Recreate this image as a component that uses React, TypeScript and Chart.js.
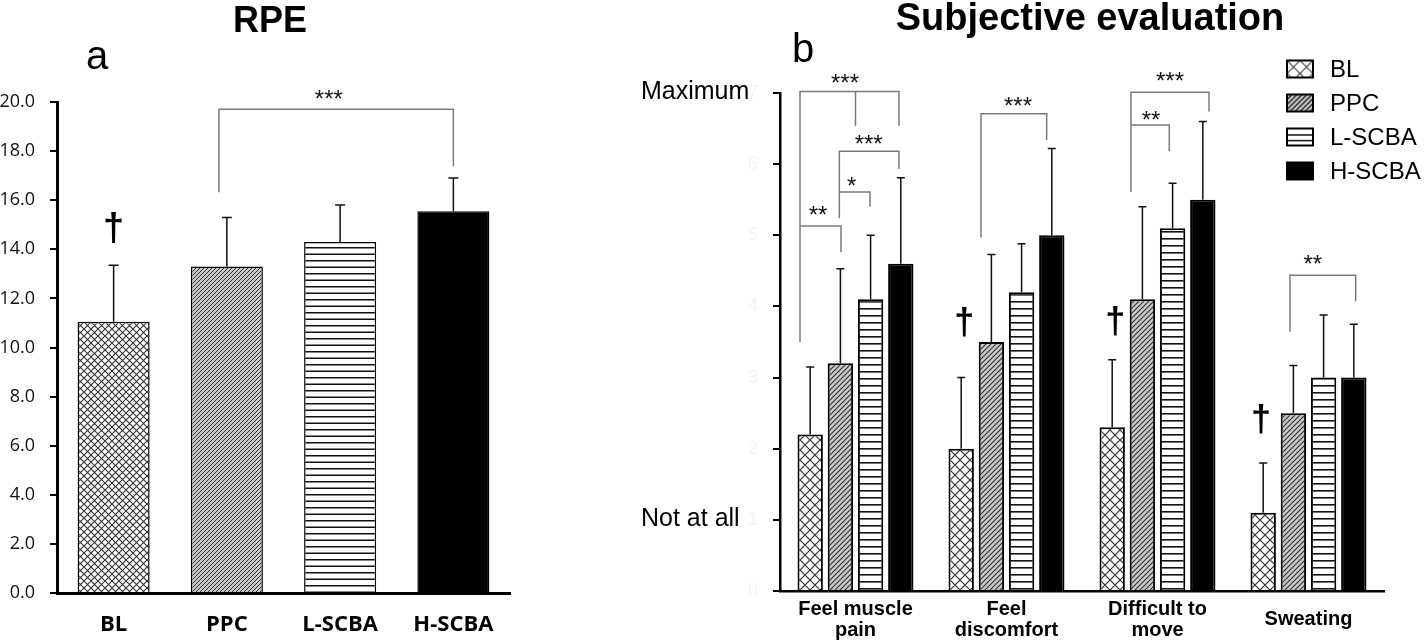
import React, { useEffect, useRef } from "react";
import { Chart, registerables } from "chart.js";

Chart.register(...registerables);

// ---------------- Data ----------------
const rpeCategories = ["BL", "PPC", "L-SCBA", "H-SCBA"];
const rpeMeans = [11.05, 13.3, 14.3, 15.55];
const rpeSD = [2.3, 2.0, 1.5, 1.35];
const rpeTickValues = [0, 2, 4, 6, 8, 10, 12, 14, 16, 18, 20];

const subjCategories = [["Feel muscle", "pain"], ["Feel", "discomfort"], ["Difficult to", "move"], ["Sweating"]];
const subjSeries = ["BL", "PPC", "L-SCBA", "H-SCBA"];
const blMeans = [2.2, 2.0, 2.3, 1.1];
const blSD = [0.95, 1.0, 0.95, 0.7];
const ppcMeans = [3.2, 3.5, 4.1, 2.5];
const ppcSD = [1.33, 1.23, 1.3, 0.67];
const lscbaMeans = [4.1, 4.2, 5.1, 3.0];
const lscbaSD = [0.9, 0.68, 0.63, 0.88];
const hscbaMeans = [4.6, 5.0, 5.5, 3.0];
const hscbaSD = [1.21, 1.22, 1.1, 0.75];
const subjTickValues = [0, 1, 2, 3, 4, 5, 6, 7];
const subjAnchorLabels: { [k: number]: string } = { 7: "Maximum", 1: "Not at all" };

// significance annotations: x in category units, y in data units
const rpeBrackets = [[[0.93, 16.32], [0.93, 19.7], [3, 19.7], [3, 17.38]]];
const rpeSigLabels = [{ text: "***", x: 1.9, y: 20.35 }];
const rpeDaggers = [{ x: 0, y: 14.8 }];

const subjBrackets = [
  [[-0.3675, 3.5], [-0.3675, 7.02], [0.288, 7.02], [0.288, 6.54]],
  [[0.0, 7.02], [0.0, 6.54]],
  [[-0.3675, 5.13], [-0.096, 5.13], [-0.096, 4.76]],
  [[-0.107, 5.24], [-0.107, 6.18], [0.288, 6.18], [0.288, 5.93]],
  [[-0.107, 5.61], [0.096, 5.61], [0.096, 5.4]],
  [[0.831, 4.97], [0.831, 6.71], [1.266, 6.71], [1.266, 6.34]],
  [[1.8245, 5.61], [1.8245, 7.01], [2.341, 7.01], [2.341, 6.74]],
  [[1.8245, 6.55], [2.078, 6.55], [2.078, 6.18]],
  [[2.8775, 3.645], [2.8775, 4.44], [3.3126, 4.44], [3.3126, 4.07]],
];
const subjSigLabels = [
  { text: "***", x: -0.0695, y: 7.22 },
  { text: "**", x: -0.248, y: 5.37 },
  { text: "***", x: 0.087, y: 6.36 },
  { text: "*", x: -0.025, y: 5.78 },
  { text: "***", x: 1.076, y: 6.9 },
  { text: "***", x: 2.083, y: 7.245 },
  { text: "**", x: 1.957, y: 6.7 },
  { text: "**", x: 3.028, y: 4.68 },
];
const subjDaggers = [{ x: 0.72, y: 3.75 }, { x: 1.72, y: 3.77 }, { x: 2.685, y: 2.39 }];

// ---------------- Patterns ----------------
function crossPattern(ctx: CanvasRenderingContext2D, p: number, color: string, lw: number) {
  const c = document.createElement("canvas");
  c.width = p; c.height = p;
  const g = c.getContext("2d")!;
  g.fillStyle = "#fff"; g.fillRect(0, 0, p, p);
  g.strokeStyle = color; g.lineWidth = lw;
  g.beginPath();
  g.moveTo(0, 0); g.lineTo(p, p);
  g.moveTo(0, p); g.lineTo(p, 0);
  g.stroke();
  return ctx.createPattern(c, "repeat")!;
}
function diagPattern(ctx: CanvasRenderingContext2D, p: number, bg: string, color: string, lw: number) {
  const c = document.createElement("canvas");
  c.width = p; c.height = p;
  const g = c.getContext("2d")!;
  g.fillStyle = bg; g.fillRect(0, 0, p, p);
  g.strokeStyle = color; g.lineWidth = lw;
  g.beginPath();
  g.moveTo(-1, p + 1); g.lineTo(p + 1, -1);
  g.moveTo(-1, 1); g.lineTo(1, -1);
  g.moveTo(p - 1, p + 1); g.lineTo(p + 1, p - 1);
  g.stroke();
  return ctx.createPattern(c, "repeat")!;
}
function hlinePattern(ctx: CanvasRenderingContext2D, h: number, count: number, lw: number) {
  const c = document.createElement("canvas");
  c.width = 4; c.height = h;
  const g = c.getContext("2d")!;
  g.fillStyle = "#fff"; g.fillRect(0, 0, 4, h);
  g.fillStyle = "#111";
  for (let i = 0; i < count; i++) g.fillRect(0, (i * h) / count, 4, lw);
  return ctx.createPattern(c, "repeat")!;
}

// ---------------- Helpers ----------------
function drawErrorBars(chart: any, sds: number[][], cap: number, lw: number) {
  const ctx = chart.ctx;
  const ys = chart.scales.y;
  ctx.save();
  ctx.strokeStyle = "#111";
  ctx.lineWidth = lw;
  chart.data.datasets.forEach((ds: any, di: number) => {
    const meta = chart.getDatasetMeta(di);
    meta.data.forEach((el: any, i: number) => {
      const top = ys.getPixelForValue(ds.data[i] + sds[di][i]);
      ctx.beginPath();
      ctx.moveTo(el.x, el.y);
      ctx.lineTo(el.x, top);
      ctx.moveTo(el.x - cap, top);
      ctx.lineTo(el.x + cap, top);
      ctx.stroke();
    });
  });
  ctx.restore();
}
function drawBrackets(chart: any, brackets: number[][][], labels: any[], size: number) {
  const ctx = chart.ctx;
  const xs = chart.scales.x, ys = chart.scales.y;
  ctx.save();
  ctx.strokeStyle = "#7a7a7a";
  ctx.lineWidth = 1.5;
  brackets.forEach((pts) => {
    ctx.beginPath();
    pts.forEach(([x, y], i) => {
      const px = xs.getPixelForValue(x), py = ys.getPixelForValue(y);
      if (i === 0) ctx.moveTo(px, py); else ctx.lineTo(px, py);
    });
    ctx.stroke();
  });
  ctx.fillStyle = "#111";
  ctx.font = `${size}px "Liberation Sans", Arial, sans-serif`;
  ctx.textAlign = "center";
  ctx.textBaseline = "alphabetic";
  labels.forEach((l) => {
    const px = xs.getPixelForValue(l.x), py = ys.getPixelForValue(l.y);
    ctx.fillText(l.text, px, py + 0.58 * size);
  });
  ctx.restore();
}
function drawDaggers(chart: any, daggers: any[], size: number) {
  const ctx = chart.ctx;
  const xs = chart.scales.x, ys = chart.scales.y;
  ctx.save();
  ctx.fillStyle = "#000";
  ctx.font = `bold ${size}px "Liberation Sans", Arial, sans-serif`;
  ctx.textAlign = "center";
  ctx.textBaseline = "middle";
  daggers.forEach((d) => {
    ctx.fillText("\u2020", xs.getPixelForValue(d.x), ys.getPixelForValue(d.y));
  });
  ctx.restore();
}

// ---------------- Left chart ----------------
function RpeChart() {
  const ref = useRef<HTMLCanvasElement | null>(null);
  useEffect(() => {
    const canvas = ref.current!;
    const ctx = canvas.getContext("2d")!;
    const fills = [
      crossPattern(ctx, 7, "#333", 1.1),
      diagPattern(ctx, 4, "#c8c8c8", "#333", 1),
      hlinePattern(ctx, 13, 2, 1.5),
      "#000",
    ];
    const annot = {
      id: "rpeAnnot",
      afterDatasetsDraw(chart: any) {
        drawErrorBars(chart, [rpeSD], 5, 1.5);
        drawBrackets(chart, rpeBrackets, rpeSigLabels, 24);
        drawDaggers(chart, rpeDaggers, 38);
      },
      afterDraw(chart: any) {
        const c = chart.ctx;
        c.save();
        c.fillStyle = "#000";
        c.textBaseline = "alphabetic";
        c.textAlign = "center";
        c.font = 'bold 36px "Liberation Sans", Arial, sans-serif';
        c.fillText("RPE", 270, 32);
        c.textAlign = "left";
        c.font = '40px "Liberation Sans", Arial, sans-serif';
        c.fillText("a", 86, 69);
        c.restore();
      },
    };
    const chart = new Chart(canvas, {
      type: "bar",
      data: {
        labels: rpeCategories,
        datasets: [
          {
            label: "RPE",
            data: rpeMeans,
            backgroundColor: fills as any,
            borderColor: "#000",
            borderWidth: 1.5,
            categoryPercentage: 1,
            barPercentage: 0.636,
          },
        ],
      },
      options: {
        responsive: false,
        animation: false,
        layout: { padding: { left: 0, right: 50, top: 102, bottom: 0 } },
        plugins: { legend: { display: false }, tooltip: { enabled: false }, title: { display: false } },
        scales: {
          x: {
            type: "category",
            grid: { display: false, drawTicks: false },
            border: { display: true, color: "#000", width: 3 },
            ticks: {
              color: "#000",
              font: { family: '"Open Sans", sans-serif', size: 22, weight: "bold" },
              padding: 19,
            },
            afterFit: (s: any) => { s.height = 51; },
          },
          y: {
            min: 0,
            max: 20,
            afterBuildTicks: (axis: any) => { axis.ticks = rpeTickValues.map((v) => ({ value: v })); },
            ticks: {
              color: "#111",
              font: { family: '"Open Sans", sans-serif', size: 18 },
              padding: 15,
              callback: (v: any) => Number(v).toFixed(1),
            },
            grid: { drawOnChartArea: false, drawTicks: true, tickLength: 7, color: "#000", lineWidth: 2 },
            border: { display: true, color: "#000", width: 3 },
            afterFit: (s: any) => { s.width = 57; },
          },
        },
      } as any,
      plugins: [annot],
    });
    return () => chart.destroy();
  }, []);
  return <canvas ref={ref} width={560} height={644} style={{ width: 560, height: 644, display: "block" }} />;
}

// ---------------- Right chart ----------------
function SubjChart() {
  const ref = useRef<HTMLCanvasElement | null>(null);
  useEffect(() => {
    const canvas = ref.current!;
    const ctx = canvas.getContext("2d")!;
    const fills = [
      crossPattern(ctx, 10, "#333", 1.2),
      diagPattern(ctx, 5, "#c8c8c8", "#333", 1.1),
      hlinePattern(ctx, 7, 1, 1.6),
      "#000",
    ];
    const legendFills = [
      crossPattern(ctx, 13, "#444", 1.2),
      diagPattern(ctx, 5, "#cfcfcf", "#222", 1.5),
      hlinePattern(ctx, 6, 1, 1.6),
      "#000",
    ];
    const means = [blMeans, ppcMeans, lscbaMeans, hscbaMeans];
    const sds = [blSD, ppcSD, lscbaSD, hscbaSD];
    const annot = {
      id: "subjAnnot",
      afterDatasetsDraw(chart: any) {
        drawErrorBars(chart, sds, 4, 1.5);
        drawBrackets(chart, subjBrackets, subjSigLabels, 24);
        drawDaggers(chart, subjDaggers, 36);
      },
      afterDraw(chart: any) {
        const c = chart.ctx;
        const ys = chart.scales.y;
        c.save();
        c.fillStyle = "#000";
        c.textBaseline = "alphabetic";
        c.textAlign = "center";
        c.font = 'bold 38px "Liberation Sans", Arial, sans-serif';
        c.fillText("Subjective evaluation", 530, 30);
        c.textAlign = "left";
        c.font = '40px "Liberation Sans", Arial, sans-serif';
        c.fillText("b", 232, 62);
        // anchor labels on the y axis
        c.font = '25px "Liberation Sans", Arial, sans-serif';
        c.textBaseline = "middle";
        Object.keys(subjAnchorLabels).forEach((k) => {
          c.fillText(subjAnchorLabels[Number(k)], 81, ys.getPixelForValue(Number(k)) - 1);
        });
        // legend
        const rows = [69, 103, 137, 171];
        chart.data.datasets.forEach((ds: any, i: number) => {
          const bx = 727, bw = 26, bh = 17, by = rows[i] - bh / 2;
          c.save();
          c.translate(bx, by);
          c.fillStyle = legendFills[i];
          c.fillRect(0, 0, bw, bh);
          if (i === 2) {
            c.fillStyle = "#fff";
            c.fillRect(0, 0, bw, bh);
            c.fillStyle = "#222";
            c.fillRect(0, bh / 3, bw, 1.6);
            c.fillRect(0, (2 * bh) / 3, bw, 1.6);
          }
          c.strokeStyle = "#000";
          c.lineWidth = 2;
          c.strokeRect(0, 0, bw, bh);
          c.restore();
          c.fillStyle = "#000";
          c.font = '24px "Liberation Sans", Arial, sans-serif';
          c.textAlign = "left";
          c.textBaseline = "middle";
          c.fillText(ds.label, 770, rows[i] + 1);
        });
        c.restore();
      },
    };
    const chart = new Chart(canvas, {
      type: "bar",
      data: {
        labels: subjCategories as any,
        datasets: subjSeries.map((name, i) => ({
          label: name,
          data: means[i],
          backgroundColor: fills[i] as any,
          borderColor: "#000",
          borderWidth: 2,
          categoryPercentage: 0.8,
          barPercentage: 0.84,
        })),
      },
      options: {
        responsive: false,
        animation: false,
        layout: { padding: { left: 0, right: 44, top: 93, bottom: 0 } },
        plugins: { legend: { display: false }, tooltip: { enabled: false }, title: { display: false } },
        scales: {
          x: {
            type: "category",
            grid: { display: false, drawTicks: false },
            border: { display: true, color: "#000", width: 2.5 },
            ticks: {
              color: "#000",
              font: { family: '"Liberation Sans", Arial, sans-serif', size: 20, weight: "bold", lineHeight: 1.05 },
              padding: 18,
              crossAlign: "center",
              maxRotation: 0,
              autoSkip: false,
            },
            afterFit: (s: any) => { s.height = 53; },
          },
          y: {
            min: 0,
            max: 7,
            afterBuildTicks: (axis: any) => { axis.ticks = subjTickValues.map((v) => ({ value: v })); },
            ticks: {
              color: "#f4f4f4",
              font: { family: '"Liberation Sans", Arial, sans-serif', size: 18 },
              padding: 15,
            },
            grid: { drawOnChartArea: false, drawTicks: true, tickLength: 7, color: "#000", lineWidth: 2 },
            border: { display: true, color: "#000", width: 2.5 },
            afterFit: (s: any) => { s.width = 220; },
          },
        },
      } as any,
      plugins: [annot],
    });
    return () => chart.destroy();
  }, []);
  return <canvas ref={ref} width={868} height={644} style={{ width: 868, height: 644, display: "block" }} />;
}

export default function App() {
  return (
    <div style={{ position: "absolute", left: 0, top: 0, width: 1428, height: 644, background: "#fff", overflow: "hidden" }}>
      <div style={{ position: "absolute", left: 0, top: 0, width: 560, height: 644 }}>
        <RpeChart />
      </div>
      <div style={{ position: "absolute", left: 560, top: 0, width: 868, height: 644 }}>
        <SubjChart />
      </div>
    </div>
  );
}
